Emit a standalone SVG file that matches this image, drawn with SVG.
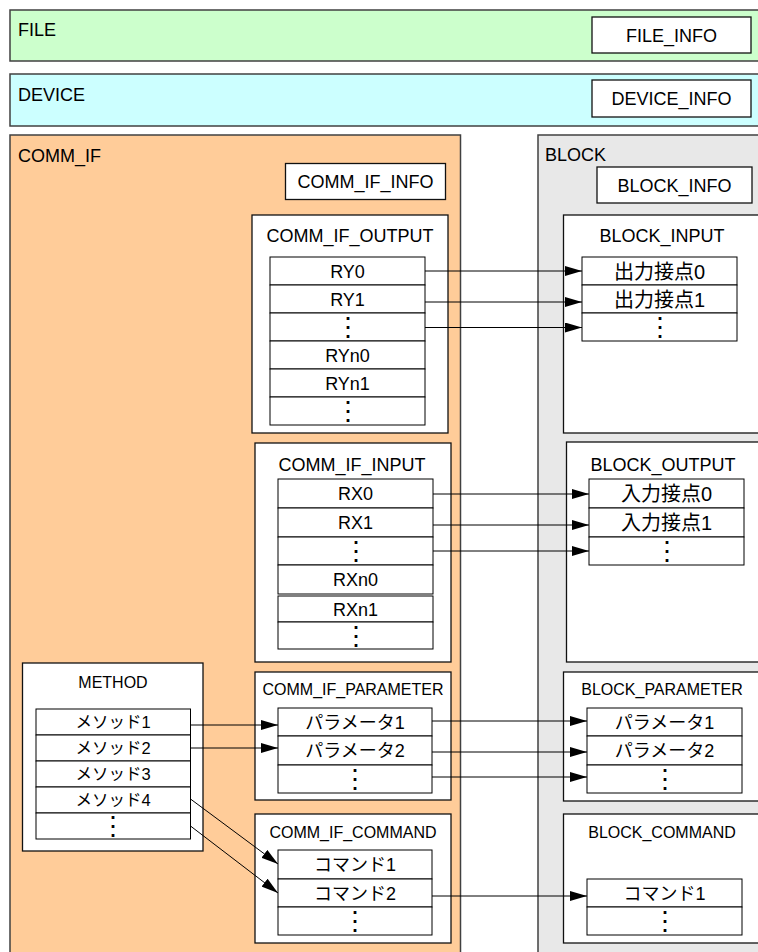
<svg xmlns="http://www.w3.org/2000/svg" width="758" height="952" viewBox="0 0 758 952">
<style>
text{font-family:"Liberation Sans","Noto Sans CJK JP",sans-serif;fill:#000}
.lbl{font-size:18px}
.ttl{font-size:18px;text-anchor:middle}
.sttl{font-size:16px;text-anchor:middle}
.row{font-size:18px;text-anchor:middle}
.dots{font-size:26px;text-anchor:middle}
.jp20{font-size:20px;text-anchor:middle}
.jp18{font-size:18px;text-anchor:middle}
.jp16{font-size:16.5px;text-anchor:middle}
.cont{stroke:#404040;stroke-width:1.5}
.box{fill:#fff;stroke:#111;stroke-width:1.3}
.cell{fill:#fff;stroke:#000;stroke-width:1}
.conn line{stroke:#000;stroke-width:1;marker-end:url(#ah)}
</style>
<defs>
<marker id="ah" markerUnits="userSpaceOnUse" markerWidth="17" markerHeight="10" refX="17" refY="5" orient="auto">
<path d="M0,0 L17,5 L0,10 z" fill="#000"/>
</marker>
</defs>
<rect width="758" height="952" fill="#fff"/>

<g id="file">
<rect class="cont" x="10" y="10" width="760" height="51" fill="#ccffcc"/>
<text class="lbl" x="18" y="36">FILE</text>
</g>
<g id="file_info">
<rect class="box" x="592" y="17" width="159" height="36"/>
<text class="ttl" x="671.5" y="41.5">FILE_INFO</text>
</g>

<g id="device">
<rect class="cont" x="10" y="74" width="760" height="52" fill="#ccffff"/>
<text class="lbl" x="18" y="101">DEVICE</text>
</g>
<g id="device_info">
<rect class="box" x="592" y="80" width="159" height="37"/>
<text class="ttl" x="671.5" y="105">DEVICE_INFO</text>
</g>

<g id="comm_if">
<rect class="cont" x="10" y="135" width="450.5" height="830" fill="#ffcc99"/>
<text class="lbl" x="18" y="162">COMM_IF</text>
</g>
<g id="comm_if_info">
<rect class="box" x="285.5" y="163.5" width="160" height="36"/>
<text class="ttl" x="365.5" y="188">COMM_IF_INFO</text>
</g>

<g id="block">
<rect class="cont" x="538" y="135" width="240" height="830" fill="#e8e8e8"/>
<text class="lbl" x="545" y="161">BLOCK</text>
</g>
<g id="block_info">
<rect class="box" x="597" y="167" width="155" height="36"/>
<text class="ttl" x="674.5" y="191.5">BLOCK_INFO</text>
</g>

<g id="comm_if_output">
<rect class="box" x="252" y="215" width="196" height="218"/>
<text class="ttl" x="350" y="241.5">COMM_IF_OUTPUT</text>
<rect class="cell" x="270" y="257" width="155" height="28"/>
<rect class="cell" x="270" y="285" width="155" height="28"/>
<rect class="cell" x="270" y="313" width="155" height="28"/>
<rect class="cell" x="270" y="341" width="155" height="28"/>
<rect class="cell" x="270" y="369" width="155" height="28"/>
<rect class="cell" x="270" y="397" width="155" height="28"/>
<text class="row" x="347.5" y="277.5">RY0</text>
<text class="row" x="347.5" y="305.5">RY1</text>
<text class="dots" x="347.5" y="336.4">⋮</text>
<text class="row" x="347.5" y="361.5">RYn0</text>
<text class="row" x="347.5" y="389.5">RYn1</text>
<text class="dots" x="347.5" y="420.4">⋮</text>
</g>

<g id="block_input">
<rect class="box" x="563.5" y="215" width="210" height="218"/>
<text class="ttl" x="662" y="241.5">BLOCK_INPUT</text>
<rect class="cell" x="582" y="257" width="155" height="28"/>
<rect class="cell" x="582" y="285" width="155" height="28"/>
<rect class="cell" x="582" y="313" width="155" height="28"/>
<text class="jp20" x="659.5" y="278.5">出力接点0</text>
<text class="jp20" x="659.5" y="306.5">出力接点1</text>
<text class="dots" x="659.5" y="336.4">⋮</text>
</g>

<g id="comm_if_input">
<rect class="box" x="255" y="443" width="196" height="219"/>
<text class="ttl" x="352" y="470.5">COMM_IF_INPUT</text>
<rect class="cell" x="278" y="479" width="155" height="29"/>
<rect class="cell" x="278" y="508" width="155" height="29"/>
<rect class="cell" x="278" y="537" width="155" height="28"/>
<rect class="cell" x="278" y="565" width="155" height="29"/>
<rect class="cell" x="278" y="596" width="155" height="26"/>
<rect class="cell" x="278" y="622" width="155" height="27"/>
<text class="row" x="355.5" y="500">RX0</text>
<text class="row" x="355.5" y="529">RX1</text>
<text class="dots" x="355.5" y="560.4">⋮</text>
<text class="row" x="355.5" y="586">RXn0</text>
<text class="row" x="355.5" y="615.5">RXn1</text>
<text class="dots" x="355.5" y="644.9">⋮</text>
</g>

<g id="block_output">
<rect class="box" x="566.5" y="442" width="210" height="220"/>
<text class="ttl" x="663" y="470.5">BLOCK_OUTPUT</text>
<rect class="cell" x="589" y="479" width="155" height="29"/>
<rect class="cell" x="589" y="508" width="155" height="29"/>
<rect class="cell" x="589" y="537" width="155" height="28"/>
<text class="jp20" x="666.5" y="501">入力接点0</text>
<text class="jp20" x="666.5" y="530">入力接点1</text>
<text class="dots" x="666.5" y="560.4">⋮</text>
</g>

<g id="method">
<rect class="box" x="22.5" y="663" width="180.5" height="188"/>
<text class="sttl" x="113" y="687.5">METHOD</text>
<rect class="cell" x="36" y="709" width="154.5" height="26"/>
<rect class="cell" x="36" y="735" width="154.5" height="26"/>
<rect class="cell" x="36" y="761" width="154.5" height="26"/>
<rect class="cell" x="36" y="787" width="154.5" height="26"/>
<rect class="cell" x="36" y="813" width="154.5" height="26"/>
<text class="jp16" x="113" y="728.3">メソッド1</text>
<text class="jp16" x="113" y="754.3">メソッド2</text>
<text class="jp16" x="113" y="780.3">メソッド3</text>
<text class="jp16" x="113" y="806.3">メソッド4</text>
<text class="dots" x="113" y="835.4">⋮</text>
</g>

<g id="comm_if_parameter">
<rect class="box" x="255" y="672" width="196" height="128"/>
<text class="sttl" x="353" y="694.8">COMM_IF_PARAMETER</text>
<rect class="cell" x="278" y="708" width="154" height="28"/>
<rect class="cell" x="278" y="736" width="154" height="29"/>
<rect class="cell" x="278" y="765" width="154" height="28"/>
<text class="jp18" x="355" y="728.8">パラメータ1</text>
<text class="jp18" x="355" y="757.3">パラメータ2</text>
<text class="dots" x="355" y="788.4">⋮</text>
</g>

<g id="block_parameter">
<rect class="box" x="563.5" y="672" width="210" height="129"/>
<text class="sttl" x="662" y="694.8">BLOCK_PARAMETER</text>
<rect class="cell" x="587" y="708" width="155" height="28"/>
<rect class="cell" x="587" y="736" width="155" height="29"/>
<rect class="cell" x="587" y="765" width="155" height="28"/>
<text class="jp18" x="664.5" y="728.8">パラメータ1</text>
<text class="jp18" x="664.5" y="757.3">パラメータ2</text>
<text class="dots" x="664.5" y="788.4">⋮</text>
</g>

<g id="comm_if_command">
<rect class="box" x="255" y="814" width="196" height="129"/>
<text class="sttl" x="353" y="837.8">COMM_IF_COMMAND</text>
<rect class="cell" x="278" y="850" width="154" height="29"/>
<rect class="cell" x="278" y="879" width="154" height="28"/>
<rect class="cell" x="278" y="907" width="154" height="28"/>
<text class="jp18" x="355" y="871.3">コマンド1</text>
<text class="jp18" x="355" y="899.8">コマンド2</text>
<text class="dots" x="355" y="930.4">⋮</text>
</g>

<g id="block_command">
<rect class="box" x="563.5" y="814" width="210" height="129"/>
<text class="sttl" x="662" y="837.8">BLOCK_COMMAND</text>
<rect class="cell" x="587" y="879" width="155" height="28"/>
<rect class="cell" x="587" y="907" width="155" height="28"/>
<text class="jp18" x="664.5" y="899.8">コマンド1</text>
<text class="dots" x="664.5" y="930.4">⋮</text>
</g>

<g id="connectors" class="conn">
<line x1="425" y1="271" x2="582" y2="271"/>
<line x1="425" y1="302" x2="582" y2="302"/>
<line x1="425" y1="327.5" x2="582" y2="327.5"/>
<line x1="433" y1="494" x2="589" y2="494"/>
<line x1="433" y1="525" x2="589" y2="525"/>
<line x1="433" y1="551" x2="589" y2="551"/>
<line x1="190.5" y1="725" x2="278" y2="725"/>
<line x1="190.5" y1="748" x2="278" y2="748"/>
<line x1="190.5" y1="799" x2="278" y2="864"/>
<line x1="190.5" y1="826" x2="278" y2="893"/>
<line x1="432" y1="721" x2="587" y2="721"/>
<line x1="432" y1="752" x2="587" y2="752"/>
<line x1="432" y1="777" x2="587" y2="777"/>
<line x1="432" y1="896" x2="587" y2="896"/>
</g>
</svg>
